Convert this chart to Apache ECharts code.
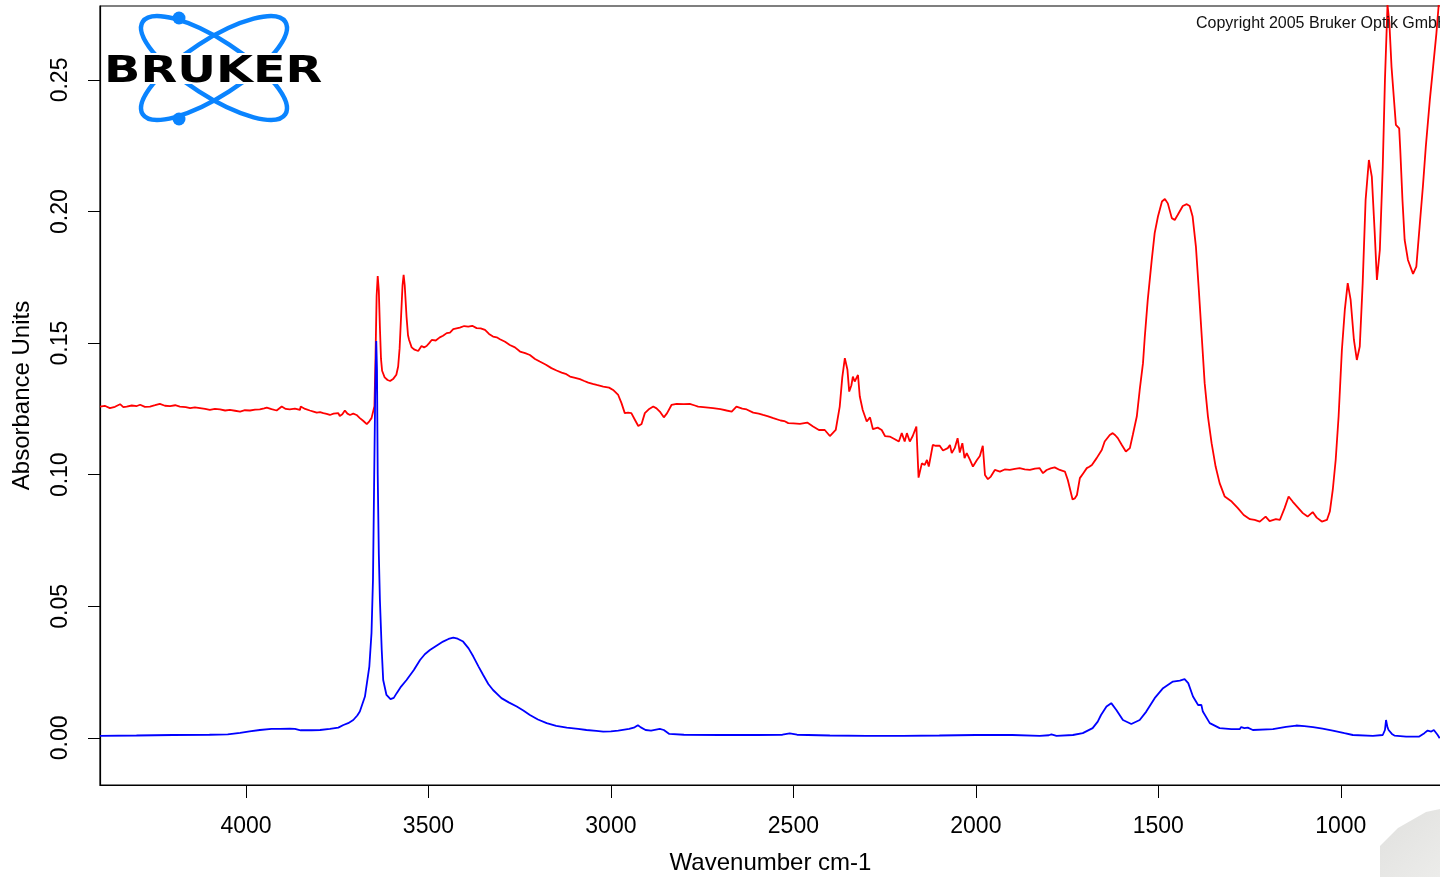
<!DOCTYPE html>
<html>
<head>
<meta charset="utf-8">
<title>Absorbance spectrum</title>
<script src="https://cdn.jsdelivr.net/npm/echarts@6/dist/echarts.min.js"></script>
<style>
  html, body { margin: 0; padding: 0; background: #fff; }
  #chart { width: 1440px; height: 877px; }
</style>
</head>
<body>
<div id="chart"></div>
<script>
// Wavenumbers (cm-1) and absorbance values of the red spectrum
const redWn = [
  4400, 4387, 4373, 4359, 4345, 4336, 4327, 4313, 4299, 4290, 4277, 4263, 4249, 4236, 4222, 4208,
  4194, 4181, 4176, 4165, 4153, 4140, 4126, 4112, 4099, 4085, 4071, 4057, 4044, 4030, 4016, 4003,
  3989, 3975, 3962, 3950, 3943, 3930, 3916, 3902, 3891, 3880, 3866, 3852, 3850, 3838, 3825, 3815,
  3806, 3797, 3788, 3779, 3770, 3760, 3747, 3743, 3736, 3729, 3722, 3715, 3706, 3697, 3688, 3679,
  3669, 3662, 3656, 3651, 3648, 3645, 3642, 3639, 3636, 3633, 3630, 3627, 3620, 3612, 3605, 3596,
  3588, 3583, 3579, 3575, 3571, 3568, 3565, 3560, 3556, 3553, 3546, 3538, 3528, 3519, 3512, 3505,
  3498, 3491, 3480, 3469, 3460, 3450, 3441, 3432, 3423, 3414, 3402, 3391, 3380, 3368, 3357, 3345,
  3334, 3323, 3313, 3304, 3290, 3277, 3263, 3249, 3235, 3222, 3208, 3195, 3178, 3163, 3149, 3135,
  3122, 3112, 3098, 3085, 3073, 3062, 3050, 3039, 3021, 3005, 2994, 2980, 2971, 2962, 2953, 2944,
  2934, 2925, 2916, 2907, 2895, 2884, 2875, 2866, 2855, 2846, 2834, 2820, 2800, 2784, 2770, 2761,
  2740, 2720, 2700, 2683, 2669, 2656, 2640, 2628, 2610, 2595, 2583, 2569, 2555, 2535, 2525, 2514,
  2500, 2482, 2462, 2446, 2430, 2414, 2400, 2384, 2373, 2366, 2359, 2352, 2347, 2341, 2337, 2332,
  2323, 2318, 2310, 2299, 2290, 2282, 2269, 2258, 2249, 2236, 2222, 2211, 2203, 2195, 2189, 2181,
  2173, 2163, 2157, 2148, 2140, 2134, 2129, 2118, 2110, 2099, 2090, 2077, 2071, 2066, 2058, 2050,
  2044, 2037, 2031, 2025, 2016, 2008, 1997, 1989, 1981, 1975, 1967, 1959, 1948, 1934, 1921, 1907,
  1893, 1880, 1866, 1852, 1838, 1825, 1816, 1806, 1795, 1784, 1770, 1756, 1748, 1741, 1735, 1729,
  1723, 1715, 1706, 1696, 1689, 1682, 1669, 1655, 1647, 1633, 1625, 1618, 1611, 1600, 1589, 1578,
  1570, 1559, 1551, 1542, 1537, 1529, 1518, 1510, 1501, 1490, 1482, 1474, 1463, 1455, 1447, 1433,
  1422, 1414, 1406, 1397, 1389, 1381, 1373, 1364, 1354, 1343, 1332, 1318, 1299, 1282, 1266, 1249,
  1236, 1222, 1206, 1195, 1178, 1167, 1154, 1143, 1132, 1118, 1104, 1091, 1077, 1066, 1052, 1038,
  1030, 1022, 1014, 1006, 997, 989, 981, 973, 964, 956, 948, 940, 932, 923, 915, 907,
  901, 893, 885, 879, 872, 867, 861, 849, 840, 837, 831, 825, 816, 802, 793, 784,
  775, 767, 756, 747, 738, 732, 725
];
const redAbs = [
  0.1259, 0.1262, 0.1253, 0.1258, 0.1268, 0.1257, 0.1259, 0.1263, 0.1261, 0.1266, 0.1258, 0.1259, 0.1264, 0.1269, 0.1262, 0.1261,
  0.1264, 0.1259, 0.1265, 0.1257, 0.1253, 0.1256, 0.1253, 0.1250, 0.1246, 0.1250, 0.1248, 0.1244, 0.1246, 0.1243, 0.1240, 0.1245,
  0.1244, 0.1247, 0.1248, 0.1252, 0.1255, 0.1249, 0.1244, 0.1259, 0.1250, 0.1248, 0.1251, 0.1246, 0.1259, 0.1250, 0.1244, 0.1240,
  0.1236, 0.1238, 0.1234, 0.1231, 0.1227, 0.1232, 0.1234, 0.1223, 0.1230, 0.1244, 0.1232, 0.1227, 0.1232, 0.1227, 0.1215, 0.1205,
  0.1192, 0.1203, 0.1215, 0.1217, 0.1260, 0.1450, 0.1680, 0.1755, 0.1700, 0.1560, 0.1440, 0.1395, 0.1370, 0.1360, 0.1356, 0.1365,
  0.1380, 0.1411, 0.1480, 0.1600, 0.1720, 0.1759, 0.1720, 0.1600, 0.1530, 0.1512, 0.1484, 0.1475, 0.1470, 0.1489, 0.1484, 0.1489,
  0.1500, 0.1512, 0.1510, 0.1522, 0.1528, 0.1538, 0.1540, 0.1553, 0.1556, 0.1559, 0.1565, 0.1563, 0.1566, 0.1557, 0.1556, 0.1550,
  0.1535, 0.1525, 0.1522, 0.1515, 0.1505, 0.1493, 0.1484, 0.1468, 0.1462, 0.1455, 0.1440, 0.1430, 0.1418, 0.1405, 0.1396, 0.1388,
  0.1382, 0.1373, 0.1368, 0.1363, 0.1356, 0.1350, 0.1345, 0.1341, 0.1335, 0.1331, 0.1322, 0.1303, 0.1272, 0.1234, 0.1236, 0.1234,
  0.1208, 0.1185, 0.1193, 0.1234, 0.1250, 0.1259, 0.1252, 0.1240, 0.1218, 0.1234, 0.1265, 0.1269, 0.1268, 0.1269, 0.1263, 0.1259,
  0.1256, 0.1253, 0.1249, 0.1244, 0.1240, 0.1259, 0.1251, 0.1248, 0.1236, 0.1232, 0.1227, 0.1222, 0.1215, 0.1206, 0.1204, 0.1196,
  0.1195, 0.1193, 0.1198, 0.1183, 0.1170, 0.1170, 0.1147, 0.1170, 0.1259, 0.1370, 0.1443, 0.1400, 0.1316, 0.1340, 0.1373, 0.1354,
  0.1379, 0.1297, 0.1246, 0.1202, 0.1218, 0.1173, 0.1179, 0.1170, 0.1147, 0.1145, 0.1135, 0.1126, 0.1158, 0.1126, 0.1158, 0.1126,
  0.1147, 0.1183, 0.0989, 0.1043, 0.1037, 0.1056, 0.1031, 0.1113, 0.1110, 0.1110, 0.1092, 0.1101, 0.1113, 0.1082, 0.1101, 0.1139,
  0.1084, 0.1120, 0.1063, 0.1082, 0.1056, 0.1031, 0.1056, 0.1071, 0.1110, 0.0999, 0.0983, 0.0993, 0.1018, 0.1012, 0.1020, 0.1018,
  0.1022, 0.1025, 0.1020, 0.1018, 0.1023, 0.1025, 0.1006, 0.1018, 0.1024, 0.1028, 0.1018, 0.1012, 0.0980, 0.0940, 0.0906, 0.0910,
  0.0923, 0.0987, 0.1005, 0.1025, 0.1030, 0.1037, 0.1063, 0.1094, 0.1126, 0.1151, 0.1158, 0.1150, 0.1139, 0.1113, 0.1088, 0.1101,
  0.1151, 0.1221, 0.1322, 0.1424, 0.1525, 0.1664, 0.1816, 0.1918, 0.1981, 0.2038, 0.2048, 0.2031, 0.1975, 0.1968, 0.1987, 0.2021,
  0.2028, 0.2021, 0.1981, 0.1867, 0.1702, 0.1525, 0.1348, 0.1221, 0.1120, 0.1031, 0.0968, 0.0917, 0.0898, 0.0873, 0.0847, 0.0831,
  0.0828, 0.0822, 0.0841, 0.0824, 0.0831, 0.0828, 0.0873, 0.0917, 0.0898, 0.0876, 0.0854, 0.0841, 0.0858, 0.0837, 0.0822, 0.0828,
  0.0860, 0.0942, 0.1056, 0.1221, 0.1474, 0.1626, 0.1728, 0.1664, 0.1512, 0.1436, 0.1487, 0.1728, 0.2044, 0.2196, 0.2133, 0.1918,
  0.1740, 0.1854, 0.2171, 0.2500, 0.2785, 0.2720, 0.2550, 0.2329, 0.2316, 0.2234, 0.2044, 0.1892, 0.1816, 0.1763, 0.1791, 0.1943,
  0.2095, 0.2247, 0.2424, 0.2550, 0.2677, 0.2780, 0.2900
];

// Wavenumbers (cm-1) and absorbance values of the blue spectrum
const blueWn = [
  4400, 4300, 4200, 4100, 4050, 4016, 3990, 3962, 3930, 3907, 3880, 3866, 3850, 3820, 3797, 3770,
  3747, 3733, 3720, 3706, 3695, 3688, 3674, 3662, 3656, 3652, 3649, 3646, 3643, 3641, 3639, 3636,
  3633, 3628, 3624, 3615, 3604, 3595, 3587, 3575, 3560, 3540, 3523, 3510, 3496, 3478, 3460, 3445,
  3432, 3420, 3405, 3390, 3377, 3363, 3350, 3336, 3323, 3300, 3280, 3258, 3240, 3222, 3200, 3176,
  3150, 3121, 3090, 3067, 3040, 3021, 3000, 2980, 2950, 2935, 2926, 2918, 2905, 2890, 2866, 2855,
  2840, 2800, 2700, 2600, 2530, 2510, 2490, 2400, 2300, 2200, 2100, 2000, 1900, 1825, 1800, 1793,
  1779, 1734, 1707, 1680, 1666, 1657, 1642, 1629, 1615, 1597, 1574, 1551, 1533, 1510, 1487, 1460,
  1441, 1428, 1418, 1405, 1391, 1387, 1382, 1378, 1359, 1332, 1300, 1277, 1273, 1264, 1255, 1241,
  1186, 1150, 1122, 1100, 1076, 1050, 1022, 990, 967, 912, 885, 879, 876, 872, 869, 860,
  853, 821, 785, 771, 762, 752, 745, 735, 729
];
const blueAbs = [
  0.0008, 0.0009, 0.0011, 0.0012, 0.0013, 0.0019, 0.0025, 0.0030, 0.0034, 0.0034, 0.0035, 0.0034, 0.0029, 0.0029, 0.0030, 0.0034,
  0.0039, 0.0049, 0.0056, 0.0068, 0.0085, 0.0100, 0.0157, 0.0271, 0.0399, 0.0600, 0.0950, 0.1300, 0.1508, 0.1400, 0.1000, 0.0700,
  0.0524, 0.0334, 0.0220, 0.0163, 0.0147, 0.0152, 0.0170, 0.0195, 0.0220, 0.0258, 0.0296, 0.0318, 0.0334, 0.0350, 0.0366, 0.0376,
  0.0381, 0.0377, 0.0366, 0.0340, 0.0309, 0.0272, 0.0239, 0.0205, 0.0182, 0.0151, 0.0135, 0.0119, 0.0104, 0.0087, 0.0070, 0.0056,
  0.0046, 0.0039, 0.0034, 0.0030, 0.0027, 0.0024, 0.0025, 0.0028, 0.0034, 0.0040, 0.0048, 0.0040, 0.0030, 0.0028, 0.0034, 0.0030,
  0.0015, 0.0012, 0.0011, 0.0011, 0.0012, 0.0017, 0.0012, 0.0009, 0.0008, 0.0008, 0.0009, 0.0011, 0.0011, 0.0008, 0.0010, 0.0013,
  0.0008, 0.0011, 0.0018, 0.0037, 0.0062, 0.0087, 0.0119, 0.0132, 0.0106, 0.0068, 0.0053, 0.0068, 0.0100, 0.0151, 0.0189, 0.0214,
  0.0218, 0.0223, 0.0208, 0.0157, 0.0125, 0.0119, 0.0125, 0.0100, 0.0056, 0.0037, 0.0033, 0.0033, 0.0041, 0.0037, 0.0039, 0.0030,
  0.0033, 0.0042, 0.0047, 0.0045, 0.0041, 0.0035, 0.0028, 0.0018, 0.0011, 0.0008, 0.0011, 0.0030, 0.0068, 0.0040, 0.0030, 0.0015,
  0.0009, 0.0005, 0.0005, 0.0018, 0.0028, 0.0024, 0.0030, 0.0012, -0.0001
];

// Axis tick values
const xTicks = [4000, 3500, 3000, 2500, 2000, 1500, 1000];
const yTicks = [0.00, 0.05, 0.10, 0.15, 0.20, 0.25];

const zip = (xs, ys) => xs.map((x, i) => [x, ys[i]]);

const FONT = "'Liberation Sans', Arial, sans-serif";
const chart = echarts.init(document.getElementById('chart'), null, { renderer: 'canvas' });

chart.setOption({
  animation: false,
  backgroundColor: '#ffffff',
  grid: {
    left: 100, right: -1, top: 6, bottom: 92,
    outerBoundsMode: 'none',
    containLabel: false,
    show: true, borderColor: '#000', borderWidth: 1.2, backgroundColor: 'transparent'
  },
  xAxis: {
    type: 'value',
    inverse: true,
    min: 725.4, max: 4400,
    name: 'Wavenumber cm-1',
    nameLocation: 'middle',
    nameGap: 66,
    nameTextStyle: { fontFamily: FONT, fontSize: 24, color: '#000' },
    axisLine: { show: true, onZero: false, lineStyle: { color: '#000', width: 1.2 } },
    axisTick: { show: true, length: 13, lineStyle: { color: '#000', width: 1 }, customValues: xTicks },
    axisLabel: {
      fontFamily: FONT, fontSize: 23, color: '#000', margin: 30, customValues: xTicks,
      formatter: v => String(v)
    },
    splitLine: { show: false }
  },
  yAxis: {
    type: 'value',
    min: -0.0179, max: 0.2781,
    name: 'Absorbance Units',
    nameLocation: 'middle',
    nameGap: 66,
    nameTextStyle: { fontFamily: FONT, fontSize: 24, color: '#000' },
    axisLine: { show: true, onZero: false, lineStyle: { color: '#000', width: 1.2 } },
    axisTick: { show: true, length: 12, lineStyle: { color: '#000', width: 1 }, customValues: yTicks },
    axisLabel: {
      fontFamily: FONT, fontSize: 23, color: '#000', margin: 28, rotate: 90,
      customValues: yTicks,
      formatter: v => v.toFixed(2)
    },
    splitLine: { show: false }
  },
  series: [
    {
      type: 'line',
      data: zip(redWn, redAbs),
      showSymbol: false,
      clip: true,
      lineStyle: { color: '#ff0000', width: 1.8 },
      itemStyle: { color: '#ff0000' },
      z: 2
    },
    {
      type: 'line',
      data: zip(blueWn, blueAbs),
      showSymbol: false,
      clip: true,
      lineStyle: { color: '#0000ff', width: 1.8 },
      itemStyle: { color: '#0000ff' },
      z: 3
    }
  ],
  graphic: [
    // Bruker logo: two crossed orbits with electrons and the wordmark
    {
      type: 'group', x: 214, y: 68, z: 10,
      children: [
        { type: 'ellipse', shape: { cx: 0, cy: 0, rx: 85, ry: 28 }, rotation: -0.576,
          style: { fill: 'none', stroke: '#0a84ff', lineWidth: 4.5 } },
        { type: 'ellipse', shape: { cx: 0, cy: 0, rx: 85, ry: 28 }, rotation: 0.576,
          style: { fill: 'none', stroke: '#0a84ff', lineWidth: 4.5 } }
      ]
    },
    { type: 'circle', shape: { cx: 179, cy: 18, r: 6.5 }, style: { fill: '#0a84ff' }, z: 11 },
    { type: 'circle', shape: { cx: 179, cy: 119, r: 6.5 }, style: { fill: '#0a84ff' }, z: 11 },
    { type: 'rect', shape: { x: 103, y: 53, width: 220, height: 31 }, style: { fill: '#ffffff' }, z: 12 },
    {
      type: 'text', x: 104, y: 54, scaleX: 1.29, z: 13,
      style: { text: 'BRUKER', fontFamily: "'DejaVu Sans', sans-serif", fontWeight: 'bold',
               fontSize: 37, fill: '#000', textVerticalAlign: 'top' }
    },
    // Copyright note in the top right corner
    {
      type: 'text', x: 1196, y: 16, z: 10,
      style: { text: 'Copyright 2005 Bruker Optik GmbH', fontFamily: FONT, fontSize: 16, fill: '#111' }
    },
    // Grey corner shape at the bottom right
    {
      type: 'polygon', z: 10,
      shape: { points: [[1380, 877], [1380, 846], [1398, 828], [1426, 812], [1440, 809], [1440, 877]] },
      style: {
        fill: new echarts.graphic.LinearGradient(0, 0, 1, 1, [
          { offset: 0, color: '#e0e0de' }, { offset: 1, color: '#ececea' }
        ])
      }
    }
  ]
});
</script>
</body>
</html>
